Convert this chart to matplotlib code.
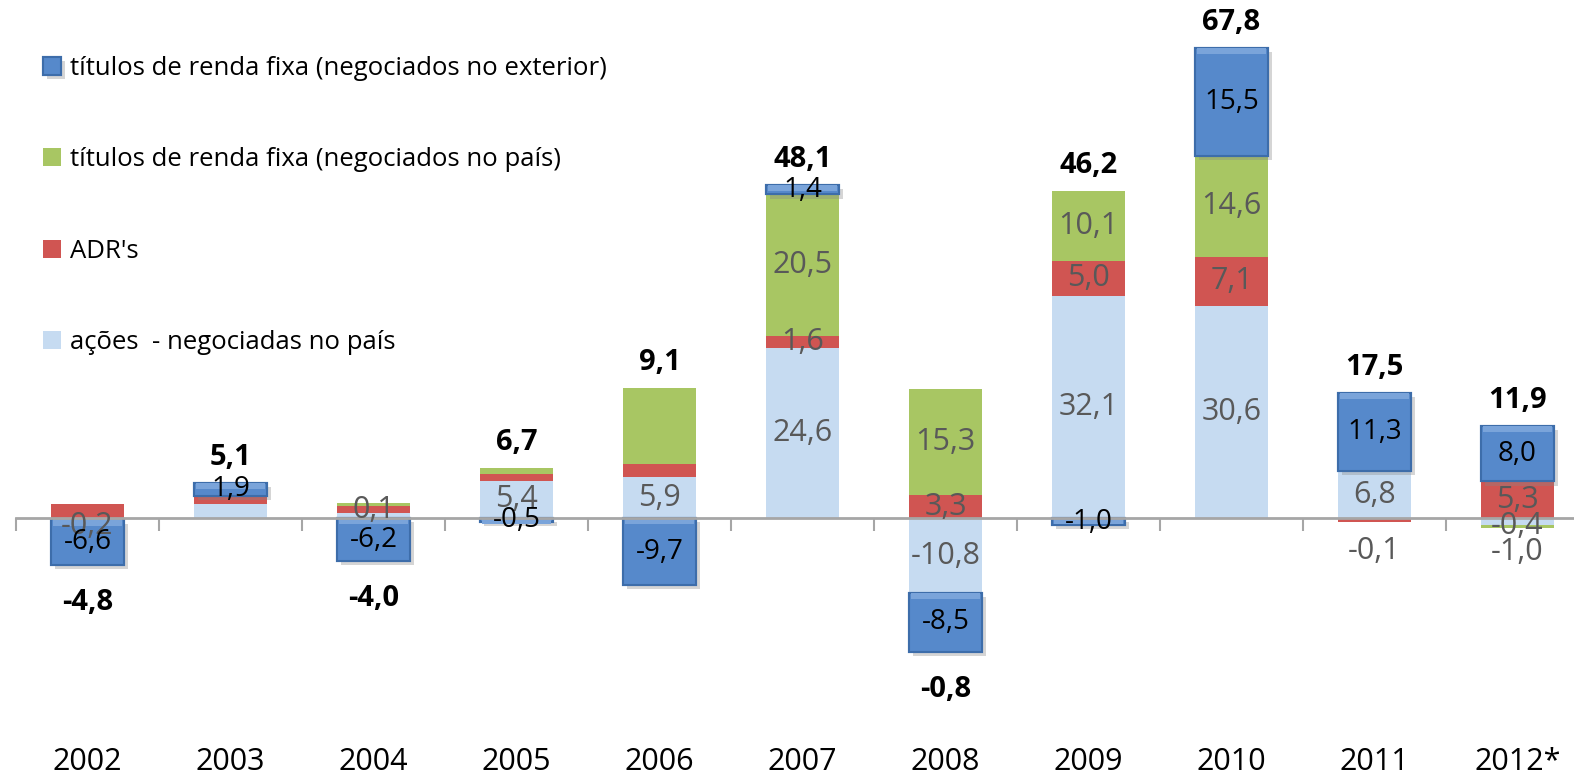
import matplotlib
matplotlib.use('Agg')
import matplotlib.pyplot as plt
import matplotlib.patheffects as pe
import numpy as np

plt.rcParams['font.family'] = ['Open Sans', 'DejaVu Sans']

years = ['2002', '2003', '2004', '2005', '2006', '2007', '2008', '2009', '2010', '2011', '2012*']

# segment values (US$ bi)
acoes = [-0.2, 2.0, 0.7, 5.4, 5.9, 24.6, -10.8, 32.1, 30.6, 6.8, -1.0]
adrs = [2.0, 1.0, 1.0, 0.9, 1.9, 1.6, 3.3, 5.0, 7.1, -0.5, 5.3]
pais = [0.0, 0.2, 0.5, 0.9, 11.0, 20.5, 15.3, 10.1, 14.6, -0.1, -0.4]
exterior = [-6.6, 1.9, -6.2, -0.5, -9.7, 1.4, -8.5, -1.0, 15.5, 11.3, 8.0]
totais = [-4.8, 5.1, -4.0, 6.7, 9.1, 48.1, -0.8, 46.2, 67.8, 17.5, 11.9]

# data labels as they appear on the chart ('' = not shown)
lab_acoes = ['-0,2', '', '', '5,4', '5,9', '24,6', '-10,8', '32,1', '30,6', '6,8', '-1,0']
lab_adrs = ['', '', '0,1', '', '', '1,6', '3,3', '5,0', '7,1', '', '5,3']
lab_pais = ['', '', '', '', '', '20,5', '15,3', '10,1', '14,6', '-0,1', '-0,4']
lab_ext = ['-6,6', '1,9', '-6,2', '-0,5', '-9,7', '1,4', '-8,5', '-1,0', '15,5', '11,3', '8,0']

nomes = ['ações  - negociadas no país', "ADR's",
         'títulos de renda fixa (negociados no país)',
         'títulos de renda fixa (negociados no exterior)']
cores = ['#C6DBF1', '#D05552', '#A8C663', '#5689CB']

fig = plt.figure(figsize=(15.74, 7.78), dpi=100)
ax = fig.add_axes([16 / 1574, 0, 1573 / 1574, 1])
ax.set_xlim(-0.5, 10.5)
ax.set_ylim(-37.5, 74.75)

x = np.arange(len(years))
w = 0.51
pos = np.zeros(len(years))
neg = np.zeros(len(years))

series = [acoes, adrs, pais, exterior]
labels = [lab_acoes, lab_adrs, lab_pais, lab_ext]
handles = []
centros = []
for k, vals in enumerate(series):
    vals = np.array(vals)
    base = np.where(vals >= 0, pos, neg)
    if k == 3:
        b = ax.bar(x, vals, w, bottom=base, color=cores[k], edgecolor='#3D6DAA', linewidth=1.5, zorder=3)
        for p in b:
            p.set_path_effects([pe.withSimplePatchShadow(offset=(3, -3), shadow_rgbFace='#888888', alpha=0.35),
                                pe.Normal()])
        # light bevel on the top edge
        ax.bar(x, np.sign(vals) * 0.9, w * 0.94, bottom=np.where(vals >= 0, base + vals - 0.9, base),
               color='#7AA4DA', linewidth=0, zorder=3.5)
    else:
        b = ax.bar(x, vals, w, bottom=base, color=cores[k], linewidth=0, zorder=2)
    handles.append(b)
    centros.append(base + vals / 2)
    pos = np.where(vals >= 0, pos + vals, pos)
    neg = np.where(vals < 0, neg + vals, neg)

# labels that Excel pushed away from their segment (points)
desvio = {(2, 9): -21, (0, 10): -22, (0, 0): -5}

for k in range(4):
    for i in range(len(years)):
        t = labels[k][i]
        if t == '':
            continue
        if k == 3:
            cor, fs = 'black', 20
        else:
            cor, fs = '#595959', 22
        ax.annotate(t, (x[i], centros[k][i]), xytext=(0, desvio.get((k, i), 0)), textcoords='offset points',
                    ha='center', va='center', fontsize=fs, color=cor, zorder=5)

for i in range(len(years)):
    if totais[i] >= 0:
        ax.annotate(f'{totais[i]:.1f}'.replace('.', ','), (x[i], pos[i]), xytext=(0, 8),
                    textcoords='offset points', ha='center', va='bottom', fontsize=21,
                    fontweight='bold', color='black')
    else:
        ax.annotate(f'{totais[i]:.1f}'.replace('.', ','), (x[i], neg[i]), xytext=(0, -27),
                    textcoords='offset points', ha='center', va='center', fontsize=21,
                    fontweight='bold', color='black')
    ax.text(x[i], 0.021, years[i], transform=ax.get_xaxis_transform(), ha='center', va='center',
            fontsize=22, color='black')

for s in ['top', 'left', 'right']:
    ax.spines[s].set_visible(False)
ax.spines['bottom'].set_position(('data', 0))
ax.spines['bottom'].set_color('#A6A6A6')
ax.spines['bottom'].set_linewidth(2)
ax.spines['bottom'].set_zorder(4)
ax.set_yticks([])
ax.set_xticks(np.arange(-0.5, 11, 1))
ax.set_xticklabels([])
ax.tick_params(axis='x', direction='out', length=9, width=1.5, color='#A6A6A6')

leg = fig.legend(handles[::-1], nomes[::-1], loc='upper left', bbox_to_anchor=(43 / 1574, 1 - 56 / 778),
                 frameon=False, fontsize=18.5, handlelength=0.7, handleheight=0.7, handletextpad=0.35,
                 labelspacing=2.58, borderpad=0, borderaxespad=0)

fig.savefig('out.png', dpi=100)
